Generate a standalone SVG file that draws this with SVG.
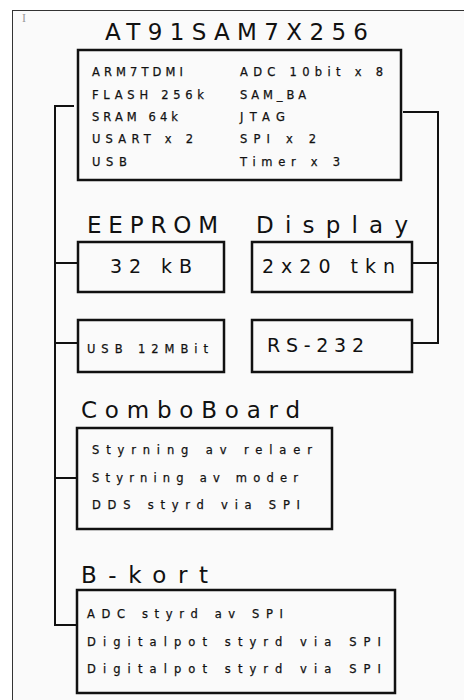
<svg xmlns="http://www.w3.org/2000/svg" width="464" height="700" viewBox="0 0 464 700">
<style>
.box{fill:none;stroke:#111;stroke-width:2.5}
.con{fill:none;stroke:#111;stroke-width:2}
.big{font-family:"DejaVu Sans","Liberation Sans",sans-serif;font-size:23px;fill:#111}
.mid{font-family:"DejaVu Sans","Liberation Sans",sans-serif;font-size:19px;fill:#111}
.sm{font-family:"DejaVu Sans","Liberation Sans",sans-serif;font-size:11.5px;fill:#111;stroke:#111;stroke-width:0.25}
</style>
<rect x="0" y="0" width="464" height="700" fill="#ffffff"/>
<rect x="12.5" y="10.5" width="460" height="700" fill="#fafafa" stroke="#333" stroke-width="1"/>
<text x="22" y="22" font-family="Liberation Serif,serif" font-size="12" fill="#999">I</text>
<g id="connectors">
<polyline class="con" points="74,106 55,106 55,625 77,625"/>
<line class="con" x1="55" y1="263" x2="78" y2="263"/>
<line class="con" x1="55" y1="343" x2="78" y2="343"/>
<line class="con" x1="55" y1="478" x2="77" y2="478"/>
<polyline class="con" points="403,112 438,112 438,343 412,343"/>
<line class="con" x1="412" y1="263" x2="438" y2="263"/>
</g>
<g id="at91">
<text class="big" x="105" y="40" textLength="263" lengthAdjust="spacing">AT91SAM7X256</text>
<rect class="box" x="78" y="50" width="323" height="130"/>
<text class="sm" x="92" y="76" textLength="91" lengthAdjust="spacing">ARM7TDMI</text>
<text class="sm" x="92" y="99" textLength="112" lengthAdjust="spacing">FLASH 256k</text>
<text class="sm" x="92" y="121" textLength="86" lengthAdjust="spacing">SRAM 64k</text>
<text class="sm" x="92" y="143" textLength="101" lengthAdjust="spacing">USART x 2</text>
<text class="sm" x="92" y="166" textLength="35" lengthAdjust="spacing">USB</text>
<text class="sm" x="240" y="76" textLength="143" lengthAdjust="spacing">ADC 10bit x 8</text>
<text class="sm" x="240" y="99" textLength="66" lengthAdjust="spacing">SAM_BA</text>
<text class="sm" x="240" y="121" textLength="45" lengthAdjust="spacing">JTAG</text>
<text class="sm" x="240" y="143" textLength="76" lengthAdjust="spacing">SPI x 2</text>
<text class="sm" x="240" y="166" textLength="100" lengthAdjust="spacing">Timer x 3</text>
</g>
<g id="eeprom">
<text class="big" x="87" y="233" font-size="24" textLength="131" lengthAdjust="spacing">EEPROM</text>
<rect class="box" x="78" y="242" width="146" height="50"/>
<text class="mid" x="110" y="273" textLength="82" lengthAdjust="spacing">32 kB</text>
</g>
<g id="display">
<text class="big" x="256" y="233" font-size="24" textLength="152" lengthAdjust="spacing">Display</text>
<rect class="box" x="252" y="242" width="160" height="50"/>
<text class="mid" x="262" y="273" textLength="133" lengthAdjust="spacing">2x20 tkn</text>
</g>
<g id="usb">
<rect class="box" x="78" y="320" width="146" height="52"/>
<text class="sm" x="87" y="353" font-size="12.5" textLength="121" lengthAdjust="spacing">USB 12MBit</text>
</g>
<g id="rs232">
<rect class="box" x="252" y="320" width="160" height="52"/>
<text class="mid" x="267" y="352" textLength="97" lengthAdjust="spacing">RS-232</text>
</g>
<g id="comboboard">
<text class="big" x="81" y="418" font-size="24" textLength="219" lengthAdjust="spacing">ComboBoard</text>
<rect class="box" x="77" y="428" width="255" height="101"/>
<text class="sm" x="92" y="454" textLength="220" lengthAdjust="spacing">Styrning av relaer</text>
<text class="sm" x="92" y="482" textLength="206" lengthAdjust="spacing">Styrning av moder</text>
<text class="sm" x="92" y="509" textLength="208" lengthAdjust="spacing">DDS styrd via SPI</text>
</g>
<g id="bkort">
<text class="big" x="81" y="583" font-size="24" textLength="127" lengthAdjust="spacing">B-kort</text>
<rect class="box" x="77" y="590" width="318" height="103"/>
<text class="sm" x="87" y="618" textLength="196" lengthAdjust="spacing">ADC styrd av SPI</text>
<text class="sm" x="87" y="646" textLength="294" lengthAdjust="spacing">Digitalpot styrd via SPI</text>
<text class="sm" x="87" y="673" textLength="294" lengthAdjust="spacing">Digitalpot styrd via SPI</text>
</g>
</svg>
